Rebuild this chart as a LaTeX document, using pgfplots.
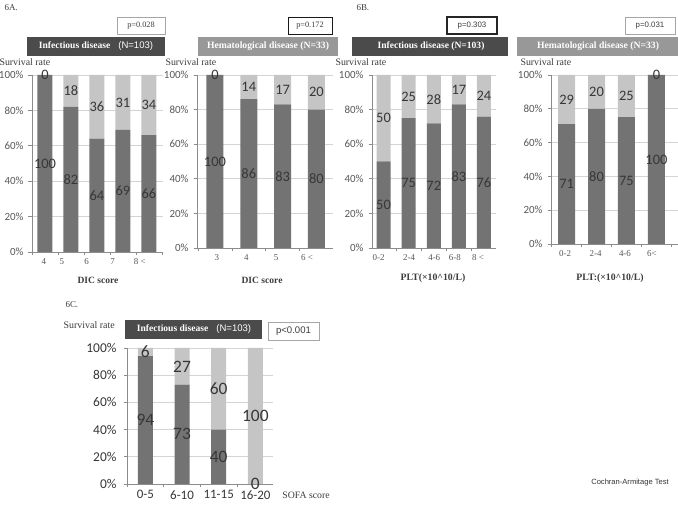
\documentclass[border=0pt]{standalone}
\usepackage{fontspec}
\setmainfont{Liberation Serif}
\newfontfamily\calib{Carlito}
\newfontfamily\arial{Liberation Sans}
\usepackage{pgfplots}
\usepackage{pgfplotstable}
\pgfplotsset{compat=1.18}

\definecolor{survdark}{RGB}{115,115,115}
\definecolor{deathlight}{RGB}{197,197,197}
\definecolor{gridgray}{RGB}{212,212,212}
\definecolor{axisgray}{RGB}{140,140,140}
\definecolor{tickgray}{RGB}{88,88,88}
\definecolor{labgray}{RGB}{55,55,55}
\definecolor{bannerdark}{RGB}{75,75,75}
\definecolor{bannermid}{RGB}{152,152,152}
\definecolor{textgray}{RGB}{60,60,60}

% columns: category index, survival (%), death (%)
\pgfplotstableread{
x s d
0 100 0
1 82 18
2 64 36
3 69 31
4 66 34
}\dicInf
\pgfplotstableread{
x s d
0 100 0
1 86 14
2 83 17
3 80 20
}\dicHem
\pgfplotstableread{
x s d
0 50 50
1 75 25
2 72 28
3 83 17
4 76 24
}\pltInf
\pgfplotstableread{
x s d
0 71 29
1 80 20
2 75 25
3 100 0
}\pltHem
\pgfplotstableread{
x s d
0 94 6
1 73 27
2 40 60
3 0 100
}\sofaInf

\pgfplotsset{
  bars/.style={
    scale only axis, ybar stacked, ymin=0, ymax=100, enlargelimits=false,
    axis x line*=bottom, axis y line*=left,
    axis line style={draw=axisgray, line width=0.7bp},
    tick style={draw=axisgray, line width=0.6bp},
    tick align=outside, major tick length=3.5bp,
    ytick={0,20,...,100}, yticklabels={0\%,20\%,40\%,60\%,80\%,100\%},
    yticklabel style={xshift=-1.5bp},
    ymajorgrids, grid style={draw=gridgray, line width=0.7bp},
    xticklabels={,,,,,,,},
  },
  labels/.style={
    scale only axis, ymin=0, ymax=100, enlargelimits=false, clip=false,
    axis line style={draw=none}, tick style={draw=none}, ytick=\empty,
    major tick length=0pt,
  },
  surv/.style={fill=survdark, draw=none},
  death/.style={fill=deathlight, draw=none},
  vals/.style={draw=none, mark=none, nodes near coords, point meta=explicit symbolic,
    nodes near coords align={center},
    every node near coord/.append style={font=#1, text=labgray, anchor=center, inner sep=0pt}},
  smallticks/.style={yticklabel style={font=\fontsize{11}{11}\calib, text=tickgray}},
  serifx/.style={xticklabel style={font=\fontsize{9}{9}\selectfont, text=tickgray, yshift=-3bp}},
  geoA1/.style={at={(32bp,271bp)}, anchor=south west, width=131bp, height=177bp, xmin=-0.5, xmax=4.54},
  geoA2/.style={at={(197bp,275bp)}, anchor=south west, width=136bp, height=173bp, xmin=-0.53, xmax=3.49},
  geoB1/.style={at={(372bp,275bp)}, anchor=south west, width=124bp, height=173bp, xmin=-0.46, xmax=4.48},
  geoB2/.style={at={(551bp,279bp)}, anchor=south west, width=127bp, height=169bp, xmin=-0.52, xmax=3.72},
  geoC/.style={at={(127bp,39bp)}, anchor=south west, width=146bp, height=136bp, xmin=-0.5, xmax=3.48},
}

\begin{document}
\begin{tikzpicture}
\useasboundingbox (0,0) rectangle (678bp,523bp);

% ---------- 6A: DIC score ----------
\node[anchor=west, font=\fontsize{9}{9}\selectfont, text=textgray] at (1bp,515bp) {6A.};

\draw[draw=gray!70, line width=0.6bp] (117bp,489bp) rectangle (165bp,506bp);
\node[font=\fontsize{8.3}{9}\selectfont, text=textgray] at (141bp,497.5bp) {p=0.028};
\fill[bannerdark] (27bp,467bp) rectangle (165bp,486bp);
\node[text=white, font=\fontsize{9.6}{10}\selectfont] at (96bp,476.5bp)
  {\textbf{Infectious disease}\hspace{8bp}{\arial (N=103)}};
\node[overlay, anchor=west, font=\fontsize{9.9}{10}\selectfont, text=textgray] at (-4bp,461bp) {Survival rate};

\begin{axis}[bars, geoA1, smallticks, bar width=15bp, xtick={-0.5,0.5,...,4.5}]
  \addplot[surv] table[x=x, y=s]{\dicInf};
  \addplot[death] table[x=x, y=d]{\dicInf};
\end{axis}
\begin{axis}[labels, geoA1, serifx, xtick={-0.04,0.65,1.6,2.6,3.65}, xticklabels={4,5,6,7,8 <}]
  \addplot[vals={\fontsize{14.5}{15}\calib}] table[x=x, y expr=\thisrow{s}/2, meta=s]{\dicInf};
  \addplot[vals={\fontsize{14.5}{15}\calib}] table[x=x, y expr=\thisrow{s}+\thisrow{d}/2, meta=d]{\dicInf};
\end{axis}
\node[font=\bfseries\fontsize{9.6}{10}\selectfont, text=textgray] at (98bp,243bp) {DIC score};

\draw[draw=gray!20!black, line width=0.7bp] (288bp,489bp) rectangle (332bp,506bp);
\node[font=\fontsize{8.3}{9}\selectfont, text=textgray] at (310bp,497.5bp) {p=0.172};
\fill[bannermid] (198bp,467bp) rectangle (338bp,486bp);
\node[text=white, font=\bfseries\fontsize{9.7}{10}\selectfont] at (268bp,476.5bp)
  {Hematological disease (N=33)};
\node[anchor=west, font=\fontsize{9.9}{10}\selectfont, text=textgray] at (162bp,461bp) {Survival rate};

\begin{axis}[bars, geoA2, smallticks, bar width=17bp, xtick={-0.5,0.5,...,3.5}]
  \addplot[surv] table[x=x, y=s]{\dicHem};
  \addplot[death] table[x=x, y=d]{\dicHem};
\end{axis}
\begin{axis}[labels, geoA2, serifx, xtick={0.06,0.93,1.81,2.72}, xticklabels={3,4,5,6 <}]
  \addplot[vals={\fontsize{14.5}{15}\calib}] table[x=x, y expr=\thisrow{s}/2, meta=s]{\dicHem};
  \addplot[vals={\fontsize{14.5}{15}\calib}] table[x=x, y expr=\thisrow{s}+\thisrow{d}/2, meta=d]{\dicHem};
\end{axis}
\node[font=\bfseries\fontsize{9.6}{10}\selectfont, text=textgray] at (262bp,243bp) {DIC score};

% ---------- 6B: platelet count ----------
\node[anchor=west, font=\fontsize{9}{9}\selectfont, text=textgray] at (353bp,515bp) {6B.};

\draw[draw=black!85, line width=1.1bp] (447bp,489bp) rectangle (497bp,506bp);
\node[font=\arial\fontsize{7.9}{9}\selectfont, text=textgray] at (472bp,497.5bp) {p=0.303};
\fill[bannerdark] (352bp,467bp) rectangle (508bp,486bp);
\node[text=white, font=\bfseries\fontsize{9.6}{10}\selectfont] at (431bp,476.5bp)
  {Infectious disease (N=103)};
\node[anchor=west, font=\fontsize{9.9}{10}\selectfont, text=textgray] at (332bp,461bp) {Survival rate};

\begin{axis}[bars, geoB1, smallticks, bar width=14bp, xtick={-0.5,0.5,...,4.5}]
  \addplot[surv] table[x=x, y=s]{\pltInf};
  \addplot[death] table[x=x, y=d]{\pltInf};
\end{axis}
\begin{axis}[labels, geoB1, serifx, xtick={-0.2,1.02,2.02,2.84,3.76}, xticklabels={0-2,2-4,4-6,6-8,8 <}]
  \addplot[vals={\fontsize{14.5}{15}\calib}] table[x=x, y expr=\thisrow{s}/2, meta=s]{\pltInf};
  \addplot[vals={\fontsize{14.5}{15}\calib}] table[x=x, y expr=\thisrow{s}+\thisrow{d}/2, meta=d]{\pltInf};
\end{axis}
\node[font=\bfseries\fontsize{9.8}{10}\selectfont, text=textgray] at (433bp,245bp) {PLT(\texttimes10\textasciicircum10/L)};

\draw[draw=gray!70, line width=0.6bp] (625bp,489bp) rectangle (675bp,506bp);
\node[font=\arial\fontsize{7.9}{9}\selectfont, text=textgray] at (650bp,497.5bp) {p=0.031};
\fill[bannermid] (517bp,467bp) rectangle (678bp,486bp);
\node[text=white, font=\bfseries\fontsize{9.7}{10}\selectfont] at (598bp,476.5bp)
  {Hematological disease (N=33)};
\node[anchor=west, font=\fontsize{9.9}{10}\selectfont, text=textgray] at (517bp,461bp) {Survival rate};

\begin{axis}[bars, geoB2, smallticks, bar width=17bp, xtick={-0.5,0.5,...,3.5}]
  \addplot[surv] table[x=x, y=s]{\pltHem};
  \addplot[death] table[x=x, y=d]{\pltHem};
\end{axis}
\begin{axis}[labels, geoB2, serifx, xtick={-0.05,0.97,1.95,2.85}, xticklabels={0-2,2-4,4-6,6<}]
  \addplot[vals={\fontsize{14.5}{15}\calib}] table[x=x, y expr=\thisrow{s}/2, meta=s]{\pltHem};
  \addplot[vals={\fontsize{14.5}{15}\calib}] table[x=x, y expr=\thisrow{s}+\thisrow{d}/2, meta=d]{\pltHem};
\end{axis}
\node[font=\bfseries\fontsize{9.8}{10}\selectfont, text=textgray] at (610bp,245bp) {PLT:(\texttimes10\textasciicircum10/L)};

% ---------- 6C: SOFA score ----------
\node[anchor=west, font=\fontsize{9}{9}\selectfont, text=textgray] at (62bp,218bp) {6C.};
\node[anchor=west, font=\fontsize{10}{10}\selectfont, text=textgray] at (60bp,198bp) {Survival rate};
\fill[bannerdark] (125bp,184bp) rectangle (262bp,203bp);
\node[text=white, font=\fontsize{9.6}{10}\selectfont] at (194bp,193.5bp)
  {\textbf{Infectious disease}\hspace{8bp}{\arial (N=103)}};
\draw[draw=gray!70, line width=0.6bp] (268bp,183bp) rectangle (319bp,201bp);
\node[font=\arial\fontsize{9.6}{10}\selectfont, text=textgray] at (293.5bp,192bp) {p<0.001};

\begin{axis}[bars, geoC, bar width=15bp, xtick={-0.5,0.5,...,3.5},
  yticklabel style={font=\fontsize{13.5}{14}\calib, text=labgray, xshift=-2bp}]
  \addplot[surv] table[x=x, y=s]{\sofaInf};
  \addplot[death] table[x=x, y=d]{\sofaInf};
\end{axis}
\begin{axis}[labels, geoC, xtick={0,1,2,3}, xticklabels={0-5,6-10,11-15,16-20},
  xticklabel style={font=\fontsize{13}{14}\calib, text=labgray, yshift=-3bp}]
  \addplot[vals={\fontsize{17.5}{18}\calib}] table[x=x, y expr=\thisrow{s}/2, meta=s]{\sofaInf};
  \addplot[vals={\fontsize{17.5}{18}\calib}] table[x=x, y expr=\thisrow{s}+\thisrow{d}/2, meta=d]{\sofaInf};
\end{axis}
\node[font=\fontsize{9.8}{10}\selectfont, text=textgray] at (306bp,28bp) {SOFA score};

\node[font=\arial\fontsize{7.6}{8}\selectfont, text=black!80] at (630bp,40bp) {Cochran-Armitage Test};
\node[overlay, anchor=north west, font=\bfseries\fontsize{10}{10}\selectfont, text=textgray] at (320bp,2.5bp) {Fig. 6};
\end{tikzpicture}
\end{document}
